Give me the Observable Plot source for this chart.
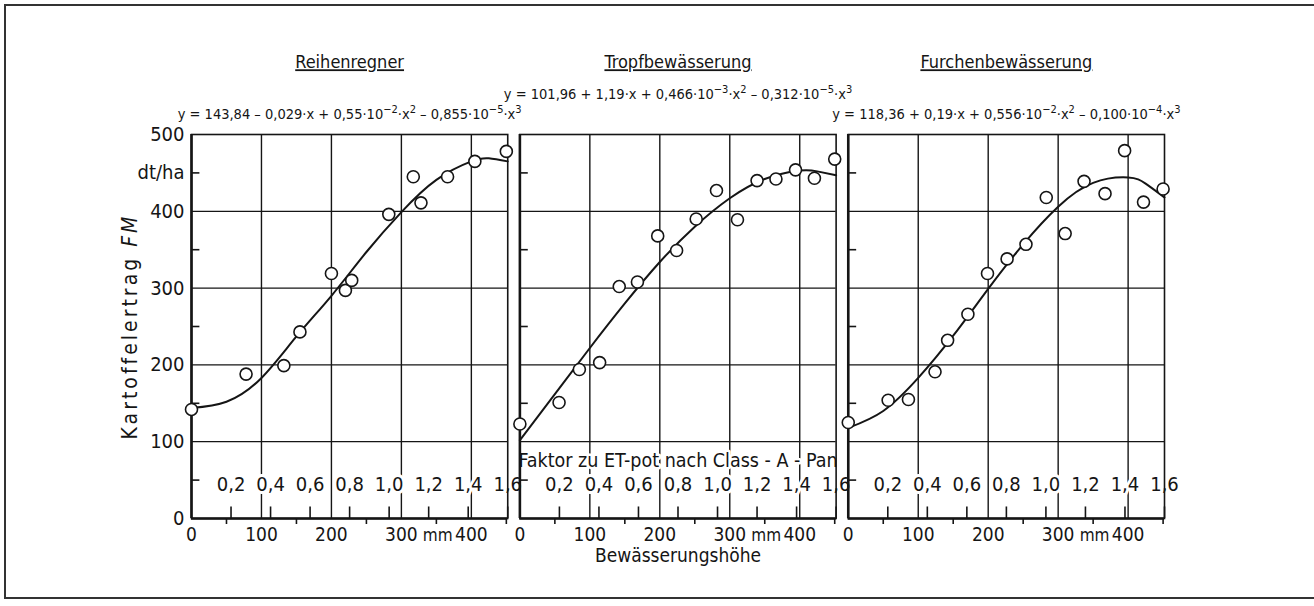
<!DOCTYPE html>
<html><head><meta charset="utf-8">
<script src="https://cdn.jsdelivr.net/npm/d3@7"></script>
<script src="https://cdn.jsdelivr.net/npm/@observablehq/plot@0.6"></script>
<style>
html,body{margin:0;padding:0;background:#fff;overflow:hidden;}
#wrap{position:relative;width:1314px;height:606px;overflow:hidden;background:#fff;}
#border{position:absolute;left:4px;top:4px;right:-20px;height:591px;border-left:2px solid #333;border-top:2px solid #333;border-bottom:2px solid #333;}
#wrap svg{position:absolute;left:0;top:0;}
</style></head>
<body><div id="wrap"><div id="border"></div></div>
<script>
const FONT = '"DejaVu Sans Condensed","Liberation Sans Narrow","Arial Narrow",sans-serif';

const panels = ["Reihenregner", "Tropfbewässerung", "Furchenbewässerung"];
// "^" marks a superscript up to the next "·" or end
const equations = [
  "y = 143,84 – 0,029·x + 0,55·10^-2·x^2 – 0,855·10^-5·x^3",
  "y = 101,96 + 1,19·x + 0,466·10^-3·x^2 – 0,312·10^-5·x^3",
  "y = 118,36 + 0,19·x + 0,556·10^-2·x^2 – 0,100·10^-4·x^3"
];

// measured points: Bewässerungshöhe (mm) / Kartoffelertrag (dt/ha)
const reihenX = [0, 78, 132, 155, 200, 220, 229, 282, 317, 328, 366, 405, 450];
const reihenY = [142, 188, 199, 243, 319, 297, 310, 396, 445, 411, 445, 465, 478];
const tropfX = [0, 56, 85, 114, 142, 168, 197, 224, 252, 281, 311, 339, 366, 394, 421, 450];
const tropfY = [123, 151, 194, 203, 302, 308, 368, 349, 390, 427, 389, 440, 442, 454, 443, 468];
const furchX = [0, 57, 86, 124, 142, 171, 199, 227, 254, 283, 310, 337, 367, 395, 422, 450];
const furchY = [125, 154, 155, 191, 232, 266, 319, 338, 357, 418, 371, 439, 423, 479, 412, 429];

// fitted curves
const curveX = [0, 50, 100, 150, 200, 250, 300, 350, 400, 425, 452];
const reihenCurve = [144, 152, 183, 237, 290, 347, 399, 441, 465, 469, 465];
const tropfCurve = [102, 162, 222, 280, 334, 380, 417, 442, 453, 452, 447];
const furchCurve = [118, 140, 183, 238, 299, 357, 406, 437, 444, 436, 418];

// axes
const yTicks = [0, 100, 200, 300, 400, 450, 500];
const yTickLabels = ["0", "100", "200", "300", "400", "dt/ha", "500"];
const yGrid = [100, 200, 300, 400];
const yMinor = [50, 150, 250, 350, 450];
const xTicks = [0, 100, 200, 300, 400];
const xTickLabels = ["0", "100", "200", "300", "400"];
const xUnit = "mm";
const xUnitAt = 352;
const xGrid = [100, 200, 300, 400];
const xMinor = [50, 150, 250, 350, 450];
const factorTicks = [0.2, 0.4, 0.6, 0.8, 1.0, 1.2, 1.4, 1.6];
const factorLabels = ["0,2", "0,4", "0,6", "0,8", "1,0", "1,2", "1,4", "1,6"];
const factorFullMm = 452; // 1,6 ↔ 452 mm
const factorTitle = "Faktor zu ET-pot nach Class - A - Pan";
const xTitle = "Bewässerungshöhe";
const yTitle = "Kartoffelertrag FM";

const seriesX = [reihenX, tropfX, furchX];
const seriesY = [reihenY, tropfY, furchY];
const curvesY = [reihenCurve, tropfCurve, furchCurve];

const points = panels.flatMap((p, k) => seriesX[k].map((x, i) => ({panel: p, x, y: seriesY[k][i]})));
const curves = panels.flatMap((p, k) => curveX.map((x, i) => ({panel: p, x, y: curvesY[k][i]})));
const eqRows = panels.map((p, k) => ({panel: p, eq: equations[k]}));
const factorRows = factorTicks.map((f, i) => ({mm: f / 1.6 * factorFullMm, label: factorLabels[i]}));

const ink = "#151515";

const plot = Plot.plot({
  width: 1314,
  height: 606,
  marginLeft: 191,
  marginRight: 150,
  marginTop: 134,
  marginBottom: 88,
  style: {fontFamily: FONT, color: ink, background: "transparent", overflow: "visible"},
  fx: {domain: panels, paddingInner: 0.037, paddingOuter: 0, round: false, axis: null, label: null},
  x: {domain: [0, 452], axis: null, label: null},
  y: {domain: [0, 500], axis: null, label: null},
  marks: [
    Plot.ruleY(yGrid, {stroke: ink, strokeWidth: 1.3}),
    Plot.ruleX(xGrid, {y1: 0, y2: 500, stroke: ink, strokeWidth: 1.4}),
    Plot.text(factorRows, {x: "mm", text: "label", frameAnchor: "bottom", dy: -28, fontSize: 20, fill: ink, stroke: "white", strokeWidth: 6}),
    Plot.text([panels[1]], {fx: d => d, text: () => factorTitle, frameAnchor: "bottom", dy: -52, fontSize: 19.5, fill: ink, stroke: "white", strokeWidth: 5}),
    Plot.ruleX(factorRows, {x: "mm", y1: 0, y2: 15, stroke: ink, strokeWidth: 1.6}),
    Plot.ruleY(yMinor, {x1: 0, x2: 12, stroke: ink, strokeWidth: 1.6}),
    Plot.frame({stroke: ink, strokeWidth: 1.6}),
    Plot.ruleX([0], {stroke: ink, strokeWidth: 2.6}),
    Plot.ruleY([0], {stroke: ink, strokeWidth: 2.6}),
    Plot.axisY({ticks: yTicks, tickFormat: d => yTickLabels[yTicks.indexOf(d)], tickSize: 0, tickPadding: 7, fontSize: 20, facetAnchor: "left", anchor: "left", label: null}),
    Plot.axisX({ticks: xTicks, tickFormat: d => xTickLabels[xTicks.indexOf(d)], tickSize: 0, tickPadding: 9, fontSize: 19, label: null}),
    Plot.text([xUnit], {x: () => xUnitAt, text: d => d, frameAnchor: "bottom", dy: 22, fontSize: 17, fill: ink}),
    Plot.axisX({ticks: xMinor, tickFormat: () => "", tickSize: 6, strokeWidth: 1.6, label: null}),
    Plot.line(curves, {fx: "panel", x: "x", y: "y", curve: "natural", stroke: ink, strokeWidth: 2}),
    Plot.dot(points, {fx: "panel", x: "x", y: "y", r: 6, fill: "white", stroke: ink, strokeWidth: 1.6}),
    Plot.text(panels, {fx: d => d, text: d => d, frameAnchor: "top", dy: -79, fontSize: 18, fill: ink}),
    Plot.text(eqRows.filter(d => d.panel !== panels[1]), {fx: "panel", text: "eq", frameAnchor: "top", dy: -26, fontSize: 14.5, fill: ink}),
    Plot.text(eqRows.filter(d => d.panel === panels[1]), {fx: "panel", text: "eq", frameAnchor: "top", dy: -46, fontSize: 14.5, fill: ink}),
    Plot.text([panels[0]], {fx: d => d, text: () => yTitle, frameAnchor: "left", textAnchor: "middle", dx: -61, rotate: -90, fontSize: 21, fill: ink}),
    Plot.text([panels[1]], {fx: d => d, text: () => xTitle, frameAnchor: "bottom", dy: 43, fontSize: 19, fill: ink})
  ]
});

document.getElementById("wrap").appendChild(plot);

const svg = d3.select(plot);
// underline panel titles
svg.selectAll("text")
  .filter(function () { return panels.includes(this.textContent); })
  .style("text-decoration", "underline");
// italic "FM" in the y title, wider tracking
svg.selectAll("text")
  .filter(function () { return this.textContent === yTitle; })
  .each(function () {
    const t = d3.select(this);
    t.text("Kartoffelertrag ").style("letter-spacing", "3px");
    t.append("tspan").attr("font-style", "italic").text("FM");
  });
// superscripts in the equations
svg.selectAll("text")
  .filter(function () { return equations.includes(this.textContent); })
  .each(function () {
    const t = d3.select(this);
    const s = this.textContent;
    t.text("");
    const parts = s.split(/(\^[^·\s]+)/);
    let up = false;
    for (const part of parts) {
      if (!part) continue;
      if (part.startsWith("^")) {
        t.append("tspan").attr("dy", -6).attr("font-size", 11).text(part.slice(1).replace("-", "−"));
        up = true;
      } else {
        const ts = t.append("tspan").text(part);
        if (up) { ts.attr("dy", 6); up = false; }
      }
    }
  });
</script>
</body></html>
